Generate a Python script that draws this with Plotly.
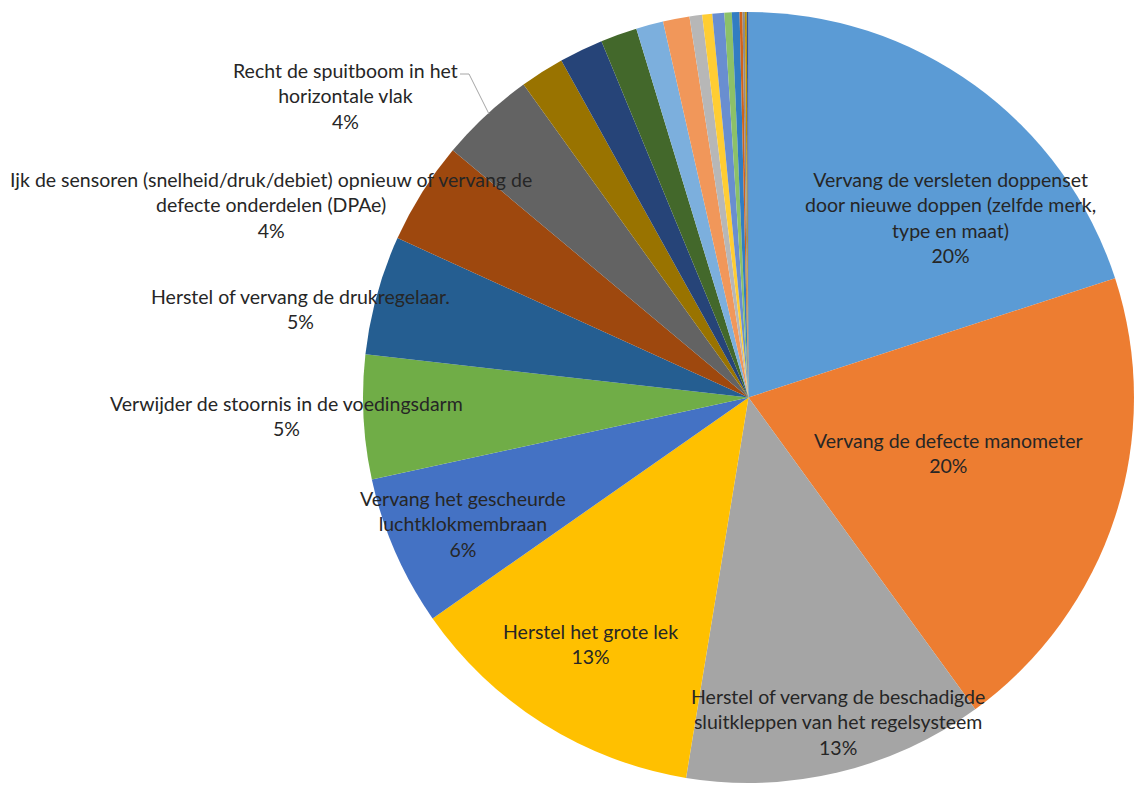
import plotly.graph_objects as go

W, H = 1134, 785

# Repair actions and their share (in %)
labels = [
    "Vervang de versleten doppenset<br>door nieuwe doppen (zelfde merk,<br>type en maat)",
    "Vervang de defecte manometer",
    "Herstel of vervang de beschadigde<br>sluitkleppen van het regelsysteem",
    "Herstel het grote lek",
    "Vervang het gescheurde<br>luchtklokmembraan",
    "Verwijder de stoornis in de voedingsdarm",
    "Herstel of vervang de drukregelaar.",
    "Ijk de sensoren (snelheid/druk/debiet) opnieuw of vervang de<br>defecte onderdelen (DPAe)",
    "Recht de spuitboom in het<br>horizontale vlak",
    "Overige 1", "Overige 2", "Overige 3", "Overige 4", "Overige 5",
    "Overige 6", "Overige 7", "Overige 8", "Overige 9", "Overige 10",
    "Overige 11", "Overige 12", "Overige 13", "Overige 14",
]
values = [20.0, 20.0, 12.6, 12.7, 6.3, 5.2, 5.0, 4.3, 4.0,
          1.85, 1.84, 1.53, 1.14, 1.11, 0.53, 0.42, 0.5, 0.31, 0.32,
          0.12, 0.1, 0.08, 0.07]
colors = ["#5B9BD5", "#ED7D31", "#A5A5A5", "#FFC000", "#4472C4", "#70AD47",
          "#255E91", "#9E480E", "#636363", "#997300", "#264478", "#43682B",
          "#7CAFDD", "#F1975A", "#B7B7B7", "#FFCD33", "#698ED0", "#8CC168",
          "#327DC2", "#D1621B", "#8C8C8C", "#BF9000", "#2F5597"]

# Label centre (pixels) for the labelled slices
label_pos = [(950, 218), (948, 453), (838, 722), (590, 644), (463, 524),
             (286, 416), (300, 309), (271, 205), (345, 96)]

total = sum(values)

fig = go.Figure(go.Pie(
    labels=labels,
    values=values,
    sort=False,
    direction="clockwise",
    rotation=0,
    marker=dict(colors=colors, line=dict(width=0)),
    textinfo="none",
    hoverinfo="label+percent",
    showlegend=False,
    domain=dict(x=[363 / W, 1134 / W], y=[(H - 783) / H, (H - 12) / H]),
))

for (px, py), lab, v in zip(label_pos, labels, values):
    pct = round(v / total * 100)
    fig.add_annotation(
        x=px / W, y=1 - py / H, xref="paper", yref="paper",
        text=f"{lab}<br>{pct}%", showarrow=False,
        xanchor="center", yanchor="middle", align="center",
        font=dict(family="Lato", size=19.5, color="#262626"),
    )

# leader line for the top-left label
fig.add_shape(type="path", xref="paper", yref="paper",
              path=f"M {460 / W},{1 - 74 / H} L {469 / W},{1 - 74 / H} L {489 / W},{1 - 114 / H}",
              line=dict(color="#A6A6A6", width=1))

fig.update_layout(
    width=W, height=H,
    margin=dict(l=0, r=0, t=0, b=0),
    paper_bgcolor="white",
    plot_bgcolor="white",
)

fig.write_html("out.html")
